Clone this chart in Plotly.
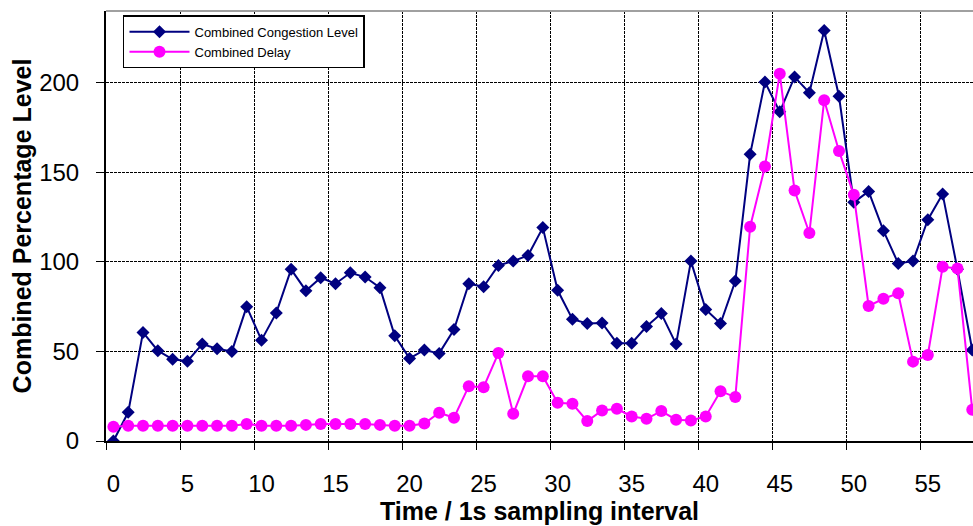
import plotly.graph_objects as go

time_idx = list(range(59))
congestion = [0, 16, 60.6, 50.4, 45.6, 44.5, 54.1, 51.5, 50, 75,
              56.3, 71.5, 95.8, 83.9, 91.1, 87.8, 93.9, 91.5, 85.6, 58.7,
              46.1, 50.8, 48.9, 62.2, 87.8, 86.1, 98, 100.4, 103.5, 119.1,
              84.1, 68, 65.6, 65.9, 54.6, 54.6, 63.9, 71.1, 54.1, 100.4,
              73.4, 65.6, 89.3, 160, 200.4, 183.7, 203.2, 194.4, 229.1, 192.4,
              133.2, 139.3, 117.4, 99.1, 100.4, 123.5, 137.8, 95.8, 50.8]
delay = [8, 8.5, 8.5, 8.5, 8.5, 8.5, 8.5, 8.5, 8.5, 9.5,
         8.5, 8.5, 8.5, 9, 9.5, 9.5, 9.5, 9.5, 9, 8.5,
         8.5, 9.8, 15.8, 13, 30.6, 30, 49.1, 15.2, 36.1, 36.1,
         21.3, 20.8, 11.1, 17, 18, 13.7, 12.4, 16.7, 11.9, 11.5,
         13.7, 27.8, 24.5, 119.6, 153.2, 205, 139.8, 116.1, 190.2, 161.9,
         137.4, 75.4, 79.4, 82.4, 44.3, 48, 97.2, 96.3, 17.4]
x_tick_vals = [0, 5, 10, 15, 20, 25, 30, 35, 40, 45, 50, 55]
x_tick_text = [str(v) for v in x_tick_vals]
y_tick_vals = [0, 50, 100, 150, 200]

FONT = "Liberation Sans, Arial, sans-serif"

fig = go.Figure()
fig.add_trace(go.Scatter(
    x=time_idx, y=congestion, mode="lines+markers",
    name="Combined Congestion Level",
    line=dict(color="#000080", width=2),
    marker=dict(symbol="diamond", size=10, color="#000080"),
))
fig.add_trace(go.Scatter(
    x=time_idx, y=delay, mode="lines+markers",
    name="Combined Delay",
    line=dict(color="#FF00FF", width=2),
    marker=dict(symbol="circle", size=12, color="#FF00FF"),
))

fig.update_layout(
    width=973, height=526,
    margin=dict(l=106, r=0, t=11, b=85),
    plot_bgcolor="white", paper_bgcolor="white",
    font=dict(family=FONT, color="black"),
    showlegend=True,
    legend=dict(
        x=0.0196, y=0.99, xanchor="left", yanchor="top",
        bgcolor="white", bordercolor="black", borderwidth=1.5,
        font=dict(size=13, family=FONT, color="black"),
        tracegroupgap=0, itemwidth=60,
    ),
    xaxis=dict(
        range=[-0.5, 58.05], showgrid=False, zeroline=False, automargin=False,
        showline=True, linecolor="black", linewidth=2,
        tickmode="array", tickvals=x_tick_vals, ticktext=x_tick_text,
        ticks="", ticklabelstandoff=20,
        tickfont=dict(size=24, family=FONT, color="black"),
        minor=dict(tickmode="linear", tick0=-0.5, dtick=5, ticks="outside",
                   ticklen=7, tickcolor="black", tickwidth=1,
                   showgrid=True, gridcolor="black", gridwidth=1,
                   griddash="3px,1px"),
        title=dict(text="<b>Time / 1s sampling interval</b>",
                   font=dict(size=25, family=FONT, color="black"), standoff=0),
    ),
    yaxis=dict(
        range=[0, 240], zeroline=False, automargin=False,
        showline=True, linecolor="black", linewidth=2,
        tickmode="array", tickvals=y_tick_vals,
        ticks="outside", ticklen=8, tickcolor="black", tickwidth=1,
        ticklabelstandoff=12,
        tickfont=dict(size=24, family=FONT, color="black"),
        showgrid=True, gridcolor="black", gridwidth=1, griddash="3px,1px",
        title=dict(text="<b>Combined Percentage Level</b>",
                   font=dict(size=25, family=FONT, color="black"), standoff=0),
    ),
    shapes=[dict(type="line", xref="paper", yref="paper", x0=0, x1=1, y0=1, y1=1,
                 line=dict(color="#a0a0a0", width=2))],
)

# remove the browser's default 8px body margin so the 973x526 figure fills the window exactly
fig.write_html(
    "out.html",
    config={"displayModeBar": False},
    post_script="document.body.style.margin='0px';document.body.style.overflow='hidden';",
)
